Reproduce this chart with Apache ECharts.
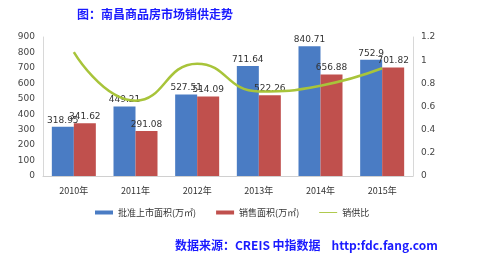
<!DOCTYPE html>
<html><head><meta charset="utf-8">
<script src="https://cdn.jsdelivr.net/npm/echarts@6/dist/echarts.min.js"></script>
<style>html,body{margin:0;padding:0;background:#fff}#c{width:480px;height:264px}</style>
</head><body><div id="c"></div>
<script>
var categories = ['2010年','2011年','2012年','2013年','2014年','2015年'];
var approved = [318.95, 449.21, 527.51, 711.64, 840.71, 752.9];
var sold = [341.62, 291.08, 514.09, 522.26, 656.88, 701.82];
var ratio = [1.07, 0.65, 0.97, 0.73, 0.78, 0.93];
var leftTicks = [0,100,200,300,400,500,600,700,800,900];
var rightTicks = [0,0.2,0.4,0.6,0.8,1,1.2];

var chart = echarts.init(document.getElementById('c'));
chart.setOption({
  animation:false,
  title:[{text:'图：南昌商品房市场销供走势', left:72, top:3,
    textStyle:{color:'#1a1aff', fontSize:12, fontWeight:'bold', fontFamily:'Noto Sans CJK SC'}},
    {text:'数据来源：CREIS 中指数据    http:fdc.fang.com', left:170, top:234,
    textStyle:{color:'#1a1aff', fontSize:12, fontWeight:'bold', fontFamily:'Noto Sans CJK SC'}}],
  grid:{left:43, right:67, top:37, bottom:88},
  legend:{top:203, left:90, itemGap:20, itemWidth:18, itemHeight:4,
    textStyle:{fontSize:9, color:'#333', fontFamily:'Noto Sans CJK SC'},
    data:[{name:'批准上市面积(万㎡)', icon:'rect'},{name:'销售面积(万㎡)', icon:'rect'},
      {name:'销供比', icon:'path://M0,0 L20,0 L20,1 L0,1 Z'}]},
  xAxis:{type:'category', data:categories,
    axisLine:{lineStyle:{color:'#d0d0d0'}}, axisTick:{show:false},
    axisLabel:{fontSize:9, color:'#333', margin:10, fontFamily:'Noto Sans CJK SC'}},
  yAxis:[{type:'value', min:0, max:900, interval:100,
      axisLine:{show:true, lineStyle:{color:'#d8d8d8'}}, splitLine:{show:false},
      axisLabel:{fontSize:9, color:'#444', margin:8, fontFamily:'DejaVu Sans'}},
    {type:'value', min:0, max:1.2, interval:0.2,
      axisLine:{show:true, lineStyle:{color:'#d8d8d8'}}, splitLine:{show:false},
      axisLabel:{fontSize:9, color:'#444', margin:8, fontFamily:'DejaVu Sans',
        formatter:function(v){return String(Math.round(v*10)/10);}}}],
  series:[
    {name:'批准上市面积(万㎡)', type:'bar', data:approved, barWidth:22, barGap:'0%',
      itemStyle:{color:'#4a7cc4'},
      label:{show:true, position:'top', distance:2, fontSize:9, color:'#333', fontFamily:'DejaVu Sans'}},
    {name:'销售面积(万㎡)', type:'bar', data:sold, barWidth:22,
      itemStyle:{color:'#c0504d'},
      label:{show:true, position:'top', distance:2, fontSize:9, color:'#333', fontFamily:'DejaVu Sans'}},
    {name:'销供比', type:'line', yAxisIndex:1, data:ratio, smooth:true, symbol:'none',
      lineStyle:{color:'#a8c43a', width:2.5}, itemStyle:{color:'#a8c43a'}}
  ]
});
</script></body></html>
